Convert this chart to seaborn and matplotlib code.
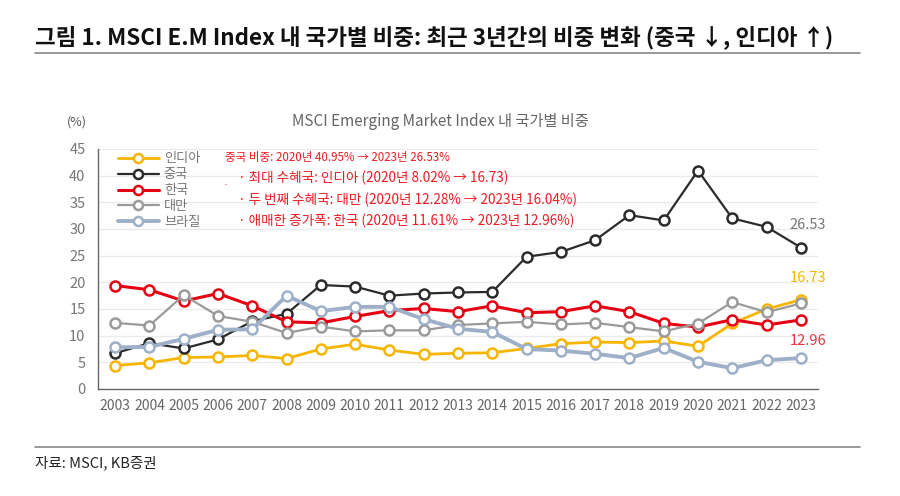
import matplotlib
matplotlib.use("Agg")
import matplotlib.pyplot as plt
import seaborn as sns
import pandas as pd
from matplotlib.lines import Line2D

years = list(range(2003, 2024))
india  = [4.4, 4.9, 5.9, 6.0, 6.3, 5.7, 7.5, 8.4, 7.3, 6.5, 6.7, 6.8, 7.6, 8.5, 8.8, 8.7, 9.0, 8.02, 12.3, 15.0, 16.73]
china  = [6.7, 8.6, 7.6, 9.3, 12.7, 14.1, 19.5, 19.2, 17.5, 17.9, 18.1, 18.2, 24.8, 25.7, 27.9, 32.6, 31.6, 40.95, 32.0, 30.4, 26.53]
korea  = [19.4, 18.6, 16.5, 17.9, 15.6, 12.6, 12.4, 13.6, 14.7, 15.1, 14.5, 15.6, 14.3, 14.5, 15.6, 14.5, 12.3, 11.61, 13.0, 12.0, 12.96]
taiwan = [12.4, 11.9, 17.6, 13.7, 12.6, 10.5, 11.7, 10.8, 11.0, 11.0, 12.0, 12.3, 12.6, 12.1, 12.4, 11.6, 10.8, 12.28, 16.3, 14.4, 16.04]
brazil = [7.8, 7.9, 9.4, 11.1, 11.2, 17.5, 14.6, 15.4, 15.4, 13.1, 11.3, 10.7, 7.5, 7.2, 6.6, 5.8, 7.7, 5.1, 3.9, 5.4, 5.8]
names = ["인디아", "중국", "한국", "대만", "브라질"]
colors = ["#F7B500", "#2B2B2B", "#E60012", "#9A9A9A", "#9EAFC8"]
widths = [2.0, 1.6, 2.2, 1.6, 2.8]

series = [india, china, korea, taiwan, brazil]
rows = []
for n, s in zip(names, series):
    for i, (y, v) in enumerate(zip(years, s)):
        rows.append({"idx": i, "year": y, "country": n, "value": v})
df = pd.DataFrame(rows)

sns.set_theme(style="white")
plt.rcParams["font.family"] = ["Noto Sans CJK KR", "DejaVu Sans"]

fig = plt.figure(figsize=(9, 4.96), dpi=100)
ax = fig.add_axes([98/900, 1-389/496, 720/900, 240/496])

for n, c, w in zip(names, colors, widths):
    sub = df[df.country == n]
    sns.lineplot(data=sub, x="idx", y="value", ax=ax, color=c, linewidth=w,
                 marker="o", markersize=7.2, markerfacecolor="white",
                 markeredgecolor=c, markeredgewidth=1.8, legend=False, zorder=3)

ax.set_xlim(-0.5, len(years)-0.5)
ax.set_ylim(0, 45)
ax.set_yticks(range(0, 46, 5))
ax.set_xticks(range(len(years)))
ax.set_xticklabels([str(y) for y in years])
ax.set_xticks([i+0.5 for i in range(-1, len(years))], minor=True)
ax.tick_params(axis="x", which="major", length=0, labelsize=10, colors="#666666", pad=7)
ax.tick_params(axis="x", which="minor", length=7, direction="inout", color="#666666", width=1)
ax.tick_params(axis="y", length=8, direction="inout", color="#666666", width=1, labelsize=10.5, labelcolor="#777777", pad=5)
ax.set_xlabel("")
ax.set_ylabel("")
ax.grid(axis="y", color="#EBEBEB", linewidth=1)
for sp in ["top", "right"]:
    ax.spines[sp].set_visible(False)
for sp in ["left", "bottom"]:
    ax.spines[sp].set_color("#666666")
    ax.spines[sp].set_linewidth(1)

handles = [Line2D([0], [0], color=c, lw=w, marker="o", markersize=6.5,
                  markerfacecolor="white", markeredgecolor=c, markeredgewidth=1.8)
           for c, w in zip(colors, widths)]
leg = ax.legend(handles, names, loc="upper left", bbox_to_anchor=(0.02, 1.008),
                frameon=False, fontsize=9.5, handlelength=3.1, labelspacing=0.22,
                handletextpad=0.4, borderaxespad=0)
for t in leg.get_texts():
    t.set_color("#777777")

red = "#EE1C25"
fig.text(225/900, 1-157/496, "중국 비중: 2020년 40.95% → 2023년 26.53%", color=red, fontsize=8.3, va="center")
fig.text(238/900, 1-178/496, "· 최대 수혜국: 인디아 (2020년 8.02% → 16.73)", color=red, fontsize=9.8, va="center")
fig.text(238/900, 1-200/496, "· 두 번째 수혜국: 대만 (2020년 12.28% → 2023년 16.04%)", color=red, fontsize=9.8, va="center")
fig.text(238/900, 1-221/496, "· 애매한 증가폭: 한국 (2020년 11.61% → 2023년 12.96%)", color=red, fontsize=9.8, va="center")
fig.text(225/900, 1-185/496, "-", color=red, fontsize=5, va="center")

last = len(years) - 1
ax.annotate("26.53", (last, china[-1]), xytext=(5, 16.5), textcoords="offset points",
            ha="center", va="center", color="#777777", fontsize=10.5)
ax.annotate("16.73", (last, india[-1]), xytext=(5, 16), textcoords="offset points",
            ha="center", va="center", color="#F7B500", fontsize=10.5)
ax.annotate("12.96", (last, korea[-1]), xytext=(5, -15.5), textcoords="offset points",
            ha="center", va="center", color="#EE3340", fontsize=10.5)

fig.text(440/900, 1-122/496, "MSCI Emerging Market Index 내 국가별 비중", color="#666666",
         fontsize=11, ha="center", va="center")
fig.text(67/900, 1-122/496, "(%)", color="#555555", fontsize=9, va="center")

fig.text(35/900, 1-37/496, "그림 1. MSCI E.M Index 내 국가별 비중: 최근 3년간의 비중 변화 (중국 ↓, 인디아 ↑)",
         fontsize=16.2, fontweight="bold", color="#111111", va="center",
         family=["Noto Sans CJK KR", "DejaVu Sans"])
fig.add_artist(Line2D([35/900, 860/900], [1-53/496, 1-53/496], color="#888888", lw=1.2))
fig.add_artist(Line2D([35/900, 860/900], [1-447/496, 1-447/496], color="#888888", lw=1.2))
fig.text(35/900, 1-463/496, "자료: MSCI, KB증권", fontsize=10.5, color="#222222", va="center")

fig.savefig("out.png", dpi=100, facecolor="white")
